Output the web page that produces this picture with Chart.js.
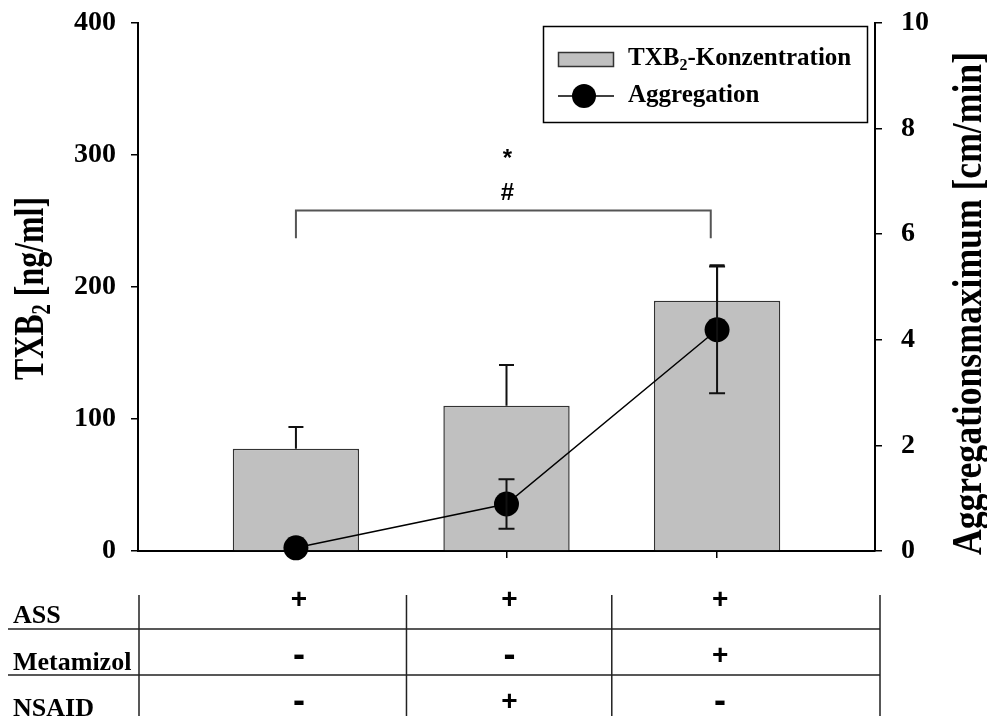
<!DOCTYPE html>
<html>
<head>
<meta charset="utf-8">
<script src="https://cdn.jsdelivr.net/npm/chart.js@4/dist/chart.umd.min.js"></script>
<style>
  html, body { margin: 0; padding: 0; background: #fff; overflow: hidden; }
  #wrap { width: 987px; height: 716px; position: relative; }
</style>
</head>
<body>
<div id="wrap"><canvas id="c" width="987" height="716"></canvas></div>
<script>
// Treatment groups and their positions on the x axis
const groups = ['ASS', 'ASS + NSAID', 'ASS + Metamizol'];
const groupPos = [0.75, 1.75, 2.75];

// TXB2 concentration [ng/ml], mean and upper error
const txbMean = [77.5, 110, 189.5];
const txbErr = [16.5, 31, 27];

// Maximum aggregation [cm/min], mean and error
const aggMean = [0.06, 0.89, 4.19];
const aggErr = [0, 0.47, 1.2];

// Axis ticks
const leftTicks = [0, 100, 200, 300, 400];
const rightTicks = [0, 2, 4, 6, 8, 10];

// Treatment table under the plot
const tableRows = ['ASS', 'Metamizol', 'NSAID'];
const tableSigns = [
  ['+', '+', '+'],
  ['-', '-', '+'],
  ['-', '+', '-']
];

// Significance marks above the bracket between group 1 and group 3
const sigMarks = ['*', '#'];

const SERIF = "'Liberation Serif', 'Times New Roman', serif";
const SANS = "'Liberation Sans', Arial, sans-serif";

// whiskers for bars (upper only) and for the aggregation points (both ways)
const errorBars = {
  id: 'errorBars',
  afterDatasetDraw(chart, args) {
    const ctx = chart.ctx;
    const xs = chart.scales.x;
    ctx.save();
    ctx.strokeStyle = '#111';
    ctx.lineWidth = 2;
    if (args.index === 0) {
      const ys = chart.scales.y;
      groupPos.forEach((gx, i) => {
        const px = xs.getPixelForValue(gx);
        const top = ys.getPixelForValue(txbMean[i]);
        const hi = ys.getPixelForValue(txbMean[i] + txbErr[i]);
        ctx.beginPath();
        ctx.moveTo(px, top); ctx.lineTo(px, hi);
        ctx.moveTo(px - 7.5, hi); ctx.lineTo(px + 7.5, hi);
        ctx.stroke();
      });
    } else if (args.index === 1) {
      const ys = chart.scales.y1;
      groupPos.forEach((gx, i) => {
        if (!aggErr[i]) return;
        const px = xs.getPixelForValue(gx);
        const hi = ys.getPixelForValue(aggMean[i] + aggErr[i]);
        const lo = ys.getPixelForValue(aggMean[i] - aggErr[i]);
        ctx.beginPath();
        ctx.moveTo(px, lo); ctx.lineTo(px, hi);
        ctx.moveTo(px - 8, hi); ctx.lineTo(px + 8, hi);
        ctx.moveTo(px - 8, lo); ctx.lineTo(px + 8, lo);
        ctx.stroke();
      });
    }
    ctx.restore();
  }
};

// rotated axis title, condensed along its length to fit a given span
function drawRotatedTitle(ctx, runs, baseX, bottomY, span) {
  ctx.save();
  let total = 0;
  runs.forEach(r => {
    ctx.font = 'bold ' + r.size + 'px ' + SERIF;
    r.w = ctx.measureText(r.t).width;
    total += r.w;
  });
  const sx = span / total;
  ctx.translate(baseX, bottomY);
  ctx.rotate(-Math.PI / 2);
  ctx.scale(sx, 1);
  ctx.fillStyle = '#000';
  ctx.textBaseline = 'alphabetic';
  ctx.textAlign = 'left';
  let x = 0;
  runs.forEach(r => {
    ctx.font = 'bold ' + r.size + 'px ' + SERIF;
    ctx.fillText(r.t, x, r.dy || 0);
    x += r.w;
  });
  ctx.restore();
}

const decorations = {
  id: 'decorations',
  afterDraw(chart) {
    const ctx = chart.ctx;
    const xs = chart.scales.x;
    const ys = chart.scales.y;

    // axis titles
    drawRotatedTitle(ctx, [
      { t: 'TXB', size: 42 },
      { t: '2', size: 27, dy: 7 },
      { t: ' [ng/ml]', size: 42 }
    ], 43, 380, 183);
    drawRotatedTitle(ctx, [
      { t: 'Aggregationsmaximum [cm/min]', size: 42 }
    ], 981, 555, 503);

    // legend
    ctx.save();
    ctx.strokeStyle = '#000';
    ctx.lineWidth = 1.5;
    ctx.strokeRect(543.5, 26.5, 324, 96);
    ctx.fillStyle = '#c0c0c0';
    ctx.fillRect(558, 52, 56, 15);
    ctx.strokeStyle = '#333';
    ctx.strokeRect(558.5, 52.5, 55, 14);
    ctx.fillStyle = '#000';
    ctx.textBaseline = 'alphabetic';
    ctx.textAlign = 'left';
    ctx.font = 'bold 25px ' + SERIF;
    let lx = 628;
    ctx.fillText('TXB', lx, 65);
    lx += ctx.measureText('TXB').width;
    ctx.font = 'bold 16px ' + SERIF;
    ctx.fillText('2', lx, 70);
    lx += ctx.measureText('2').width;
    ctx.font = 'bold 25px ' + SERIF;
    ctx.fillText('-Konzentration', lx, 65);
    ctx.fillText('Aggregation', 628, 102);
    ctx.strokeStyle = '#000';
    ctx.lineWidth = 1.5;
    ctx.beginPath();
    ctx.moveTo(558, 96); ctx.lineTo(614, 96);
    ctx.stroke();
    ctx.beginPath();
    ctx.arc(584, 96, 12, 0, Math.PI * 2);
    ctx.fill();
    ctx.restore();

    // significance bracket between group 1 and group 3
    ctx.save();
    const bx1 = xs.getPixelForValue(groupPos[0]);
    const bx2 = xs.getPixelForValue(2.72);
    const by = ys.getPixelForValue(258);
    const byDrop = ys.getPixelForValue(237);
    ctx.strokeStyle = '#555';
    ctx.lineWidth = 2;
    ctx.beginPath();
    ctx.moveTo(bx1, byDrop); ctx.lineTo(bx1, by); ctx.lineTo(bx2, by); ctx.lineTo(bx2, byDrop);
    ctx.stroke();
    ctx.fillStyle = '#000';
    ctx.textAlign = 'center';
    ctx.textBaseline = 'middle';
    const mx = xs.getPixelForValue(groupPos[1]) + 1;
    ctx.font = 'bold 24px ' + SANS;
    ctx.fillText(sigMarks[0], mx, ys.getPixelForValue(297));
    ctx.fillText(sigMarks[1], mx, ys.getPixelForValue(271));
    ctx.restore();

    // treatment table
    ctx.save();
    ctx.strokeStyle = '#222';
    ctx.lineWidth = 1.5;
    const edges = [chart.chartArea.left + 1, xs.getPixelForValue(1.275), xs.getPixelForValue(2.25), chart.chartArea.right + 5];
    ctx.beginPath();
    [629, 675].forEach(yy => { ctx.moveTo(8, yy); ctx.lineTo(edges[3], yy); });
    edges.forEach(ex => { ctx.moveTo(ex, 595); ctx.lineTo(ex, 716); });
    ctx.stroke();

    const labelBase = [623, 670, 716];
    const signMid = [601, 657, 703];
    ctx.fillStyle = '#000';
    ctx.textAlign = 'left';
    ctx.textBaseline = 'alphabetic';
    ctx.font = 'bold 26px ' + SERIF;
    tableRows.forEach((r, i) => ctx.fillText(r, 13, labelBase[i]));
    ctx.textAlign = 'center';
    ctx.textBaseline = 'middle';
    tableSigns.forEach((row, i) => {
      row.forEach((s, j) => {
        const px = xs.getPixelForValue(groupPos[j]) + 3;
        if (s === '+') {
          ctx.font = 'bold 28px ' + SANS;
          ctx.fillText('+', px, signMid[i] - 1);
        } else {
          ctx.font = 'bold 36px ' + SANS;
          ctx.fillText('-', px, signMid[i] - 1);
        }
      });
    });
    ctx.restore();
  }
};

const tickFont = { family: SERIF, size: 28, weight: 'bold' };
const gridOpts = { drawOnChartArea: false, drawTicks: true, tickLength: 7, color: '#000', lineWidth: 1.5, offset: false };
const borderOpts = { display: true, color: '#000', width: 2 };

// keep the plot frame fixed: no extra room reserved for tick labels
function fixBox(prop, size) {
  return s => {
    s[prop] = size;
    s.paddingTop = 0; s.paddingBottom = 0; s.paddingLeft = 0; s.paddingRight = 0;
  };
}

new Chart(document.getElementById('c'), {
  data: {
    datasets: [
      {
        type: 'bar',
        label: 'TXB2-Konzentration',
        data: groupPos.map((x, i) => ({ x: x, y: txbMean[i] })),
        backgroundColor: '#c0c0c0',
        borderColor: '#333',
        borderWidth: 1.5,
        barPercentage: 0.6,
        categoryPercentage: 1,
        xAxisID: 'x',
        yAxisID: 'y',
        order: 2
      },
      {
        type: 'line',
        label: 'Aggregation',
        data: groupPos.map((x, i) => ({ x: x, y: aggMean[i] })),
        borderColor: '#000',
        borderWidth: 1.5,
        pointRadius: 12.5,
        pointBackgroundColor: '#000',
        pointBorderColor: '#000',
        pointBorderWidth: 0,
        fill: false,
        tension: 0,
        clip: false,
        xAxisID: 'x',
        yAxisID: 'y1',
        order: 1
      }
    ]
  },
  options: {
    responsive: false,
    animation: false,
    events: [],
    layout: { padding: { top: 23, left: 0, right: 0, bottom: 0 } },
    plugins: {
      legend: { display: false },
      tooltip: { enabled: false },
      title: { display: false }
    },
    scales: {
      x: {
        type: 'linear',
        position: 'bottom',
        offset: false,
        min: 0,
        max: 3.5,
        afterBuildTicks: s => { s.ticks = groupPos.map(v => ({ value: v })); },
        ticks: { callback: () => '', padding: 0 },
        grid: gridOpts,
        border: borderOpts,
        afterFit: fixBox('height', 165)
      },
      y: {
        type: 'linear',
        position: 'left',
        min: 0,
        max: 400,
        afterBuildTicks: s => { s.ticks = leftTicks.map(v => ({ value: v })); },
        ticks: { font: tickFont, color: '#000', padding: 15 },
        grid: gridOpts,
        border: borderOpts,
        afterFit: fixBox('width', 138)
      },
      y1: {
        type: 'linear',
        position: 'right',
        min: 0,
        max: 10,
        afterBuildTicks: s => { s.ticks = rightTicks.map(v => ({ value: v })); },
        ticks: { font: tickFont, color: '#000', padding: 19 },
        grid: gridOpts,
        border: borderOpts,
        afterFit: fixBox('width', 112)
      }
    }
  },
  plugins: [errorBars, decorations]
});
</script>
</body>
</html>
